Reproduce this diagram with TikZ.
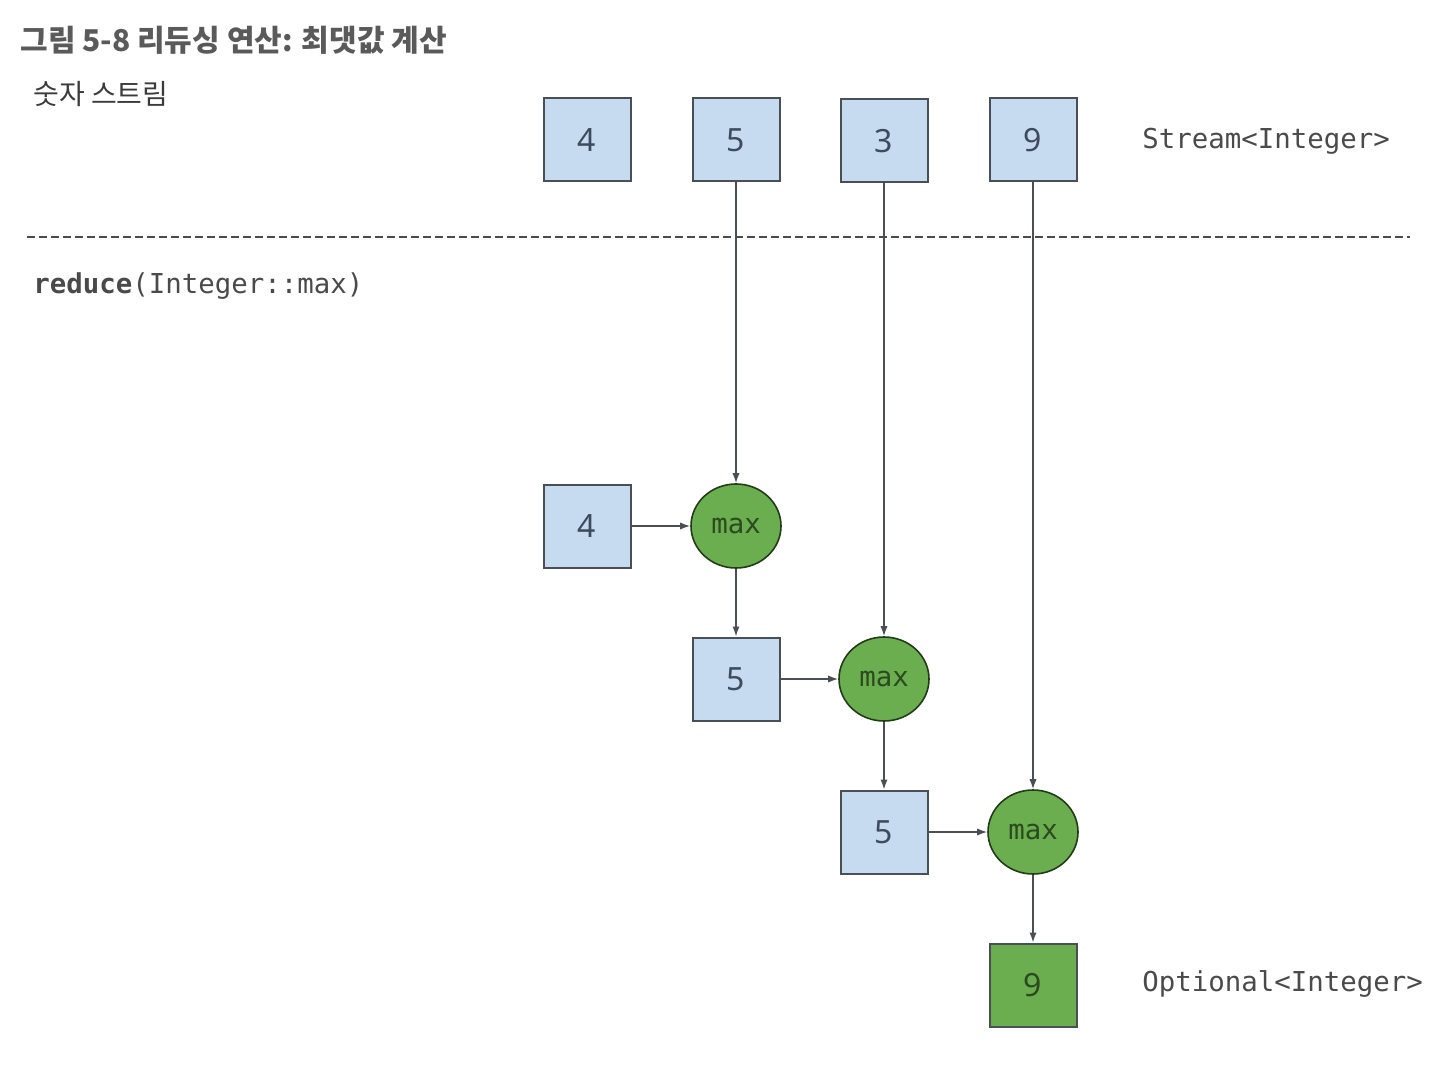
\documentclass[tikz,border=0pt]{standalone}
\usepackage{fontspec}
\setmainfont{Noto Sans}
\setmonofont{DejaVu Sans Mono}
\newfontfamily\cjk{Noto Sans CJK KR}
\usetikzlibrary{shapes.geometric,arrows.meta}
\definecolor{boxblue}{HTML}{C6DBF0}
\definecolor{boxline}{HTML}{4A4F55}
\definecolor{nodegreen}{HTML}{6AAE4F}
\definecolor{darkgreen}{HTML}{2C4A1F}
\definecolor{numtext}{HTML}{3E4B5C}
\definecolor{txtgray}{HTML}{4A4A4A}
\definecolor{titlegray}{HTML}{5A5A5A}
\tikzset{
  numbox/.style={draw=boxline, line width=1pt, fill=boxblue, minimum width=43.5pt, minimum height=41.5pt, inner sep=0pt, font=\fontsize{16}{18}\selectfont, text=numtext},
  resbox/.style={numbox, fill=nodegreen, text=darkgreen},
  maxnode/.style={ellipse, draw=darkgreen!80!black, line width=0.8pt, fill=nodegreen, minimum width=45pt, minimum height=42pt, inner sep=0pt, font=\ttfamily\fontsize{13.7}{16}\selectfont, text=darkgreen},
  conn/.style={draw=boxline, line width=0.7pt, -{Latex[length=5pt,width=3.6pt]}},
  label/.style={font=\ttfamily\fontsize{13.7}{16}\selectfont, text=txtgray, anchor=west, inner sep=0pt}
}
\begin{document}
\begin{tikzpicture}[x=0.5pt,y=-0.5pt]
\useasboundingbox (0,0) rectangle (1444,1080);
% title texts
\node[anchor=west, inner sep=0pt, text=titlegray, font=\cjk\bfseries\fontsize{15}{17}\selectfont] (title) at (20,40) {그림 5-8 리듀싱 연산: 최댓값 계산};
\node[anchor=west, inner sep=0pt, text=txtgray!80!black, font=\cjk\fontsize{14}{16}\selectfont] (sub) at (33,94) {숫자 스트림};
% stream
\node[numbox] (s4) at (587,140) {4};
\node[numbox] (s5) at (736,140) {5};
\node[numbox] (s3) at (884,141) {3};
\node[numbox] (s9) at (1033,140) {9};
\node[label] (streamlbl) at (1142,141) {Stream<Integer>};
% dashed line
\coordinate (dl) at (27,237);
\coordinate (dr) at (1410,237);
\draw[draw=txtgray, line width=0.7pt, dash pattern=on 4pt off 2pt] (dl) -- (dr);
\node[label] (reducelbl) at (33,286) {\textbf{reduce}(Integer::max)};
% reduction
\node[numbox] (a4) at (587,526) {4};
\node[maxnode] (m1) at (736,526) {\raisebox{-1.5pt}{max}};
\node[numbox] (b5) at (736,679) {5};
\node[maxnode] (m2) at (884,679) {\raisebox{-1.5pt}{max}};
\node[numbox] (c5) at (884,832) {5};
\node[maxnode] (m3) at (1033,832) {\raisebox{-1.5pt}{max}};
\node[resbox] (r9) at (1033,985) {9};
\node[label] (optlbl) at (1142,984) {Optional<Integer>};
% connectors
\draw[conn] (s5) -- (m1);
\draw[conn] (s3) -- (m2);
\draw[conn] (s9) -- (m3);
\draw[conn] (a4) -- (m1);
\draw[conn] (m1) -- (b5);
\draw[conn] (b5) -- (m2);
\draw[conn] (m2) -- (c5);
\draw[conn] (c5) -- (m3);
\draw[conn] (m3) -- (r9);
\end{tikzpicture}
\end{document}
